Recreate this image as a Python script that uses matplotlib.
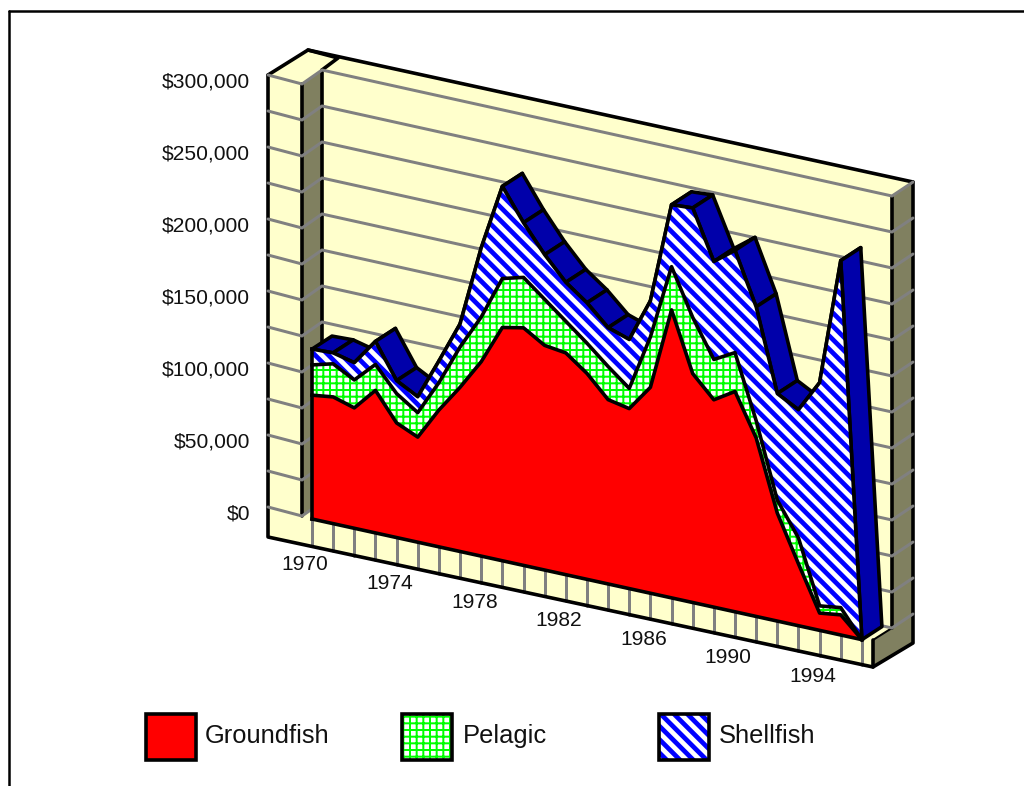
import numpy as np
import matplotlib
matplotlib.use("Agg")
import matplotlib.pyplot as plt
from matplotlib.patches import Rectangle
from matplotlib.transforms import Affine2D

plt.rcParams['font.family'] = ['Liberation Sans', 'DejaVu Sans']

years = list(range(1970, 1997))
groundfish = [86000, 88000, 83600, 99000, 79600, 73000, 95000, 114000, 135000, 162000,
              165000, 156000, 154000, 143000, 128000, 125000, 143000, 200000, 159000, 144000,
              153000, 124000, 75000, 43000, 12000, 14000, 0]
pelagic_top = [107000, 111000, 103000, 117000, 100000, 90000, 114000, 142000, 166000, 196000,
               200000, 188000, 176000, 164000, 151000, 139000, 178000, 230000, 198000, 172000,
               180000, 136000, 84000, 61000, 17000, 19000, 0]
shellfish_top = [118000, 118600, 115000, 133000, 109000, 101000, 129000, 158000, 214000, 260000,
                 238000, 219000, 203000, 192000, 178000, 173000, 203000, 273000, 274000, 240000,
                 251000, 215000, 158000, 150000, 172000, 260000, 0]
series_names = ['Groundfish', 'Pelagic', 'Shellfish']
value_ticks = [0, 50000, 100000, 150000, 200000, 250000, 300000]
value_labels = ['$0', '$50,000', '$100,000', '$150,000', '$200,000', '$250,000', '$300,000']
grid_values = list(range(0, 325000, 25000))
year_ticks = [1970, 1974, 1978, 1982, 1986, 1990, 1994]

YELLOW = '#ffffcc'
KHAKI = '#808060'
GRAY = '#808080'
DARK_BLUE = '#0000aa'
PX_YEAR = 21.15
DROP_YEAR = 4.64
PX_VALUE = 0.00144
DEPTH = np.array([20, -13])
# hatch spacing follows the dpi, 80 gives the reference's mesh; sizes below are given in pixels
DPI = 80
PT = 72 / DPI
STRIPE_LW = 4.7 * PT
MESH_LW = 2 * PT
EDGE_LW = 3.6 * PT
GRID_LW = 3 * PT

fig = plt.figure(figsize=(1024 / DPI, 786 / DPI), dpi=DPI)
ax = fig.add_axes([0, 0, 1, 1])
ax.set_xlim(0, 1024)
ax.set_ylim(786, 0)
ax.axis('off')

# year, value -> pixel on the front of the stack
front = Affine2D.from_values(PX_YEAR, DROP_YEAR, 0, -PX_VALUE,
                             312 - PX_YEAR * 1970, 519 - DROP_YEAR * 1970)
front_data = front + ax.transData


def line(xs, ys, color='black', lw=EDGE_LW, z=2):
    ax.plot(xs, ys, color=color, lw=lw, zorder=z, solid_capstyle='round', solid_joinstyle='round')


# frame
line([9, 9], [790, 11], lw=2.5 * PT)
line([9, 1030], [11, 11], lw=2.5 * PT)

# box
ax.fill([268, 308, 913, 892, 873, 268], [75, 50, 182, 640, 667, 537], color=YELLOW, lw=0, zorder=1)
ax.fill([302, 322, 322, 302], [84, 70, 502, 516], color=KHAKI, lw=0, zorder=1)
ax.fill([892, 913, 913, 873, 873, 892], [197, 182, 643, 667, 640, 628], color=KHAKI, lw=0, zorder=1)
line([268, 268, 873, 913, 913], [75, 537, 667, 643, 182])
line([268, 308, 913], [75, 50, 182])
line([308, 338, 322], [50, 58, 70])
line([302, 302], [84, 516])
line([322, 322], [70, 502])
line([892, 892], [197, 628])
line([873, 873], [640, 667])
line([873, 892], [640, 628], lw=2 * PT)

# grid lines run over the left block, the back wall and the right side
grid_x = [268, 302, 322, 892, 913]
grid_base = [507, 516, 502, 628, 614]
for v in grid_values:
    line(grid_x, [b - PX_VALUE * v for b in grid_base], color=GRAY, lw=GRID_LW, z=3)

# floor ticks
for yr in years:
    px, py = front.transform([yr, 0])
    line([px, px], [py, 537 + (px - 268) * 0.2149], color=GRAY, lw=GRID_LW, z=1.5)

# shellfish depth faces
pts_front = front.transform(np.column_stack([years, shellfish_top]))
pts_back = pts_front + DEPTH
for i in range(len(years) - 1):
    quad = np.array([pts_front[i], pts_front[i + 1], pts_back[i + 1], pts_back[i]])
    ax.fill(quad[:, 0], quad[:, 1], facecolor=DARK_BLUE, edgecolor='black', lw=EDGE_LW, zorder=4,
            joinstyle='round')

# front faces, the hatch width is taken from rcParams when the artist is made
plt.rcParams['hatch.linewidth'] = STRIPE_LW
ax.fill_between(years, pelagic_top, shellfish_top, transform=front_data, facecolor='white',
                edgecolor='#0000ff', hatch='\\\\', lw=0, zorder=5)
plt.rcParams['hatch.linewidth'] = MESH_LW
ax.fill_between(years, groundfish, pelagic_top, transform=front_data, facecolor='white',
                edgecolor='#00ff00', hatch='++', lw=0, zorder=5)
ax.fill_between(years, 0, groundfish, transform=front_data, facecolor='#ff0000', lw=0, zorder=5)

for top in [shellfish_top, pelagic_top, groundfish]:
    ax.plot(years, top, transform=front_data, color='black', lw=EDGE_LW, zorder=6, solid_joinstyle='round')
ax.plot([years[0], years[0]], [0, shellfish_top[0]], transform=front_data, color='black', lw=EDGE_LW, zorder=6)
ax.plot([years[0], years[-1]], [0, 0], transform=front_data, color='black', lw=EDGE_LW, zorder=6)

# labels
for v, lab in zip(value_ticks, value_labels):
    ax.text(250, 514 - PX_VALUE * v, lab, ha='right', va='center', fontsize=21 * PT, color='#111111', zorder=7)
for yr in year_ticks:
    px, py = front.transform([yr, 0])
    ax.text(px - 7, py + 46, str(yr), ha='center', va='center', fontsize=21 * PT, color='#111111', zorder=7)

# legend
legend_x = [146, 402, 659]
text_x = [205, 463, 719]
plt.rcParams['hatch.linewidth'] = STRIPE_LW
ax.add_patch(Rectangle((legend_x[2], 714), 50, 46, facecolor='white', edgecolor='#0000ff',
                       hatch='\\\\', lw=0, zorder=5))
plt.rcParams['hatch.linewidth'] = MESH_LW
ax.add_patch(Rectangle((legend_x[1], 714), 50, 46, facecolor='white', edgecolor='#00ff00',
                       hatch='++', lw=0, zorder=5))
ax.add_patch(Rectangle((legend_x[0], 714), 50, 46, facecolor='#ff0000', lw=0, zorder=5))
for lx, tx, name in zip(legend_x, text_x, series_names):
    ax.add_patch(Rectangle((lx, 714), 50, 46, fill=False, edgecolor='black', lw=EDGE_LW, zorder=6))
    ax.text(tx, 736, name, ha='left', va='center', fontsize=25.5 * PT, color='#111111', zorder=7)

fig.savefig('out.png', dpi=DPI)
